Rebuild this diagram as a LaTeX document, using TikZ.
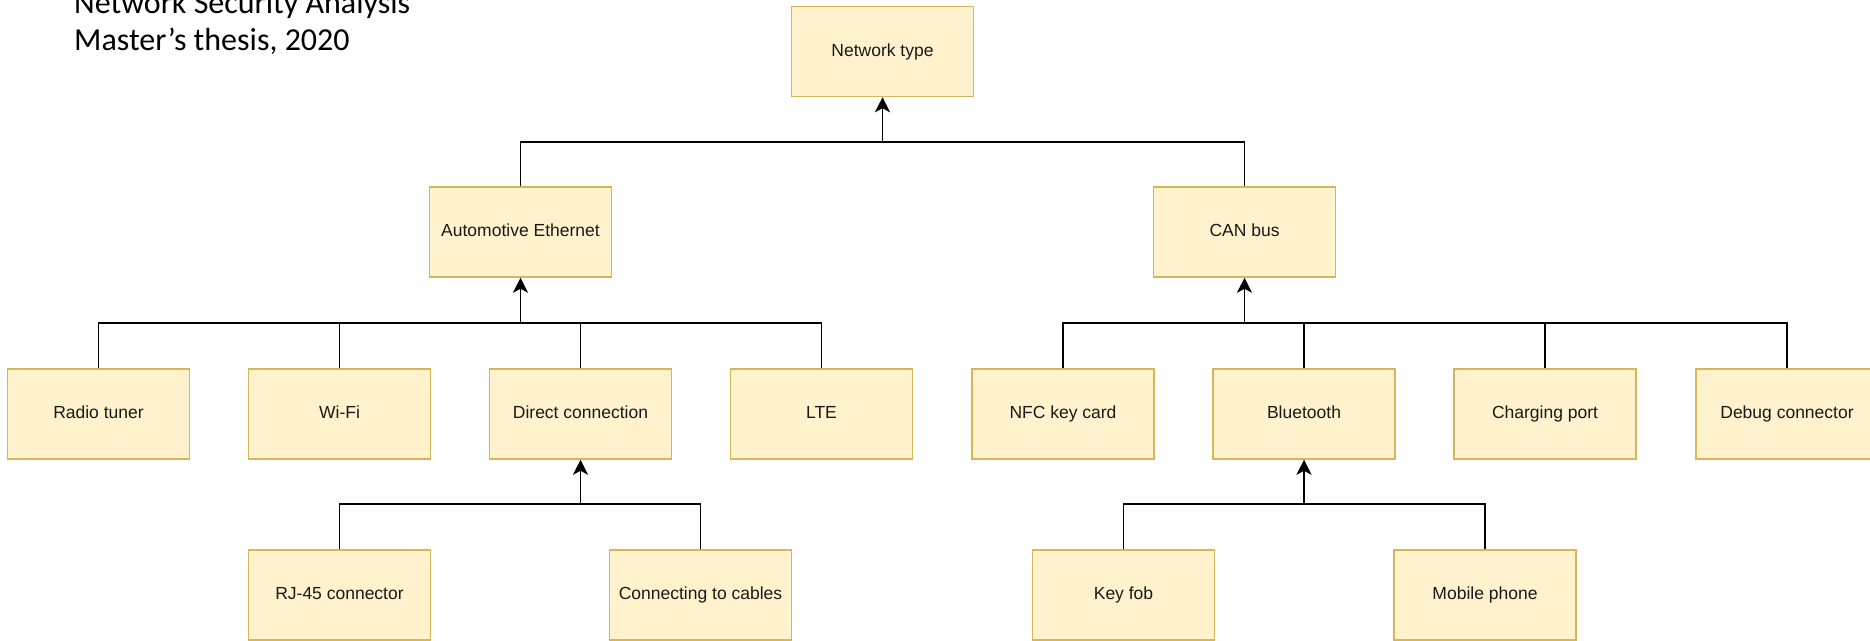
\documentclass[tikz,border=0pt]{standalone}
\usepackage{fontspec}
\setmainfont{Liberation Sans}
\newfontfamily\titlefont{Carlito}
\usetikzlibrary{arrows.meta}
\definecolor{boxfill}{HTML}{FFF2CC}
\definecolor{boxdraw}{HTML}{D6B656}
\begin{document}
\begin{tikzpicture}[x=1pt,y=-1pt,
  box/.style={draw=boxdraw, fill=boxfill, line width=1.5pt, minimum width=182pt, minimum height=90pt, inner sep=0pt, text height=13pt, text depth=3.5pt, font=\fontsize{17.5}{20}\selectfont, text=black!90},
  link/.style={line width=1.8pt, black},
  arr/.style={link, -{Stealth[length=15pt,width=15pt,inset=4pt]}},
  title/.style={anchor=base west, inner sep=0pt, font=\titlefont\fontsize{32}{37}\selectfont}]
\useasboundingbox (0,0) rectangle (1870,640);

\node[title] (t1) at (74,13) {Network Security Analysis};
\node[title] (t2) at (74,50) {Master’s thesis, 2020};

\node[box] (nt) at (882.5,51.5) {Network type};
\node[box] (ae) at (520.5,232) {Automotive Ethernet};
\node[box] (can) at (1244.5,232) {CAN bus};

\node[box] (radio) at (98.5,414) {Radio tuner};
\node[box] (wifi) at (339.5,414) {Wi-Fi};
\node[box] (direct) at (580.5,414) {Direct connection};
\node[box] (lte) at (821.5,414) {LTE};
\node[box] (nfc) at (1063,414) {NFC key card};
\node[box] (bt) at (1304,414) {Bluetooth};
\node[box] (charge) at (1545,414) {Charging port};
\node[box] (debug) at (1787,414) {Debug connector};

\node[box] (rj) at (339.5,595) {RJ-45 connector};
\node[box] (cables) at (700.5,595) {Connecting to cables};
\node[box] (fob) at (1123.5,595) {Key fob};
\node[box] (phone) at (1485,595) {Mobile phone};

\coordinate (j0) at (882.5,142);
\coordinate (j1) at (520.5,323);
\coordinate (j2) at (1244.5,323);
\coordinate (j3) at (580.5,504);
\coordinate (j4) at (1304,504);

\draw[link] (ae.north) |- (j0);
\draw[link] (can.north) |- (j0);
\draw[arr] (j0) -- (nt.south);

\draw[link] (radio.north) |- (j1);
\draw[link] (wifi.north) |- (j1);
\draw[link] (direct.north) |- (j1);
\draw[link] (lte.north) |- (j1);
\draw[arr] (j1) -- (ae.south);

\draw[link] (nfc.north) |- (j2);
\draw[link] (bt.north) |- (j2);
\draw[link] (charge.north) |- (j2);
\draw[link] (debug.north) |- (j2);
\draw[arr] (j2) -- (can.south);

\draw[link] (rj.north) |- (j3);
\draw[link] (cables.north) |- (j3);
\draw[arr] (j3) -- (direct.south);

\draw[link] (fob.north) |- (j4);
\draw[link] (phone.north) |- (j4);
\draw[arr] (j4) -- (bt.south);
\end{tikzpicture}
\end{document}
